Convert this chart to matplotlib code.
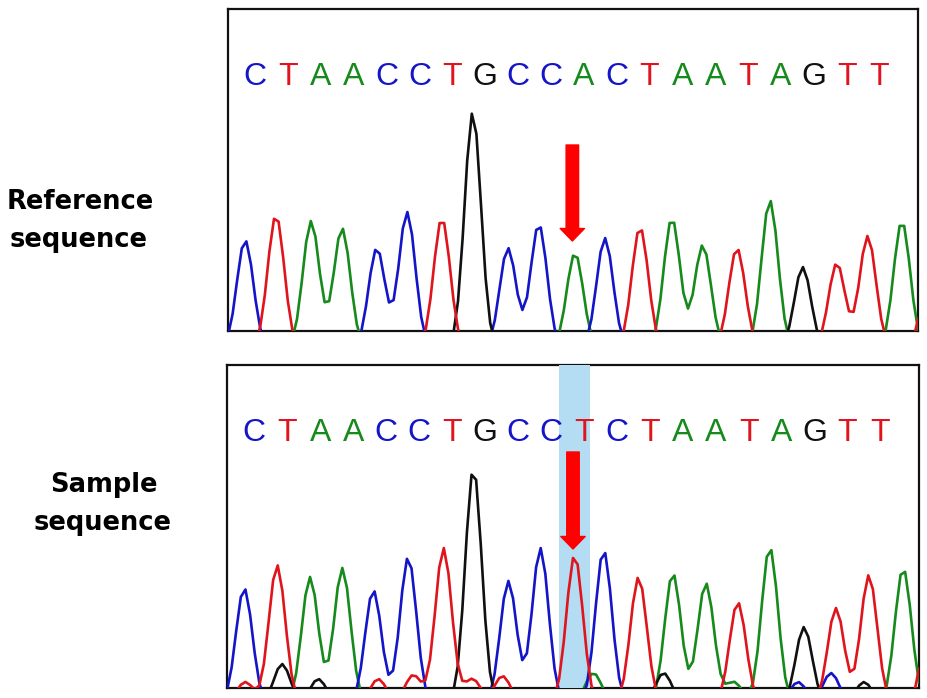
"""Sanger trace comparison: reference vs sample sequence"""

import numpy as np
import matplotlib
matplotlib.use("Agg")
import matplotlib.pyplot as plt

# called bases printed above each trace
ref_bases = list("CTAACCTGCCACTAATAGTT")
smp_bases = list("CTAACCTGCCTCTAATAGTT")

# main peaks: base, position (in base slots), height (trace units)
ref_peak_bases = list("CTAACCTGCCACTAATAGTTAT")
ref_peak_pos = [0.52, 1.46, 2.53, 3.47, 4.53, 5.45, 6.51, 7.45, 8.52, 9.46, 10.56,
                11.47, 12.54, 13.51, 14.45, 15.49, 16.49, 17.49, 18.53, 19.47, 20.51, 21.42]
ref_peak_h = [108, 133, 127, 120, 100, 136, 130, 236, 100, 124, 95,
              110, 121, 130, 103, 100, 148, 81, 85, 112, 127, 117]

smp_peak_bases = list("CTAACCTGCCTCTAATAGTTAT")
smp_peak_pos = [0.52, 1.52, 2.52, 3.50, 4.44, 5.50, 6.57, 7.48, 8.54, 9.51, 10.55,
                11.43, 12.49, 13.53, 14.53, 15.50, 16.47, 17.51, 18.48, 19.48, 20.52, 21.40]
smp_peak_h = [116, 139, 127, 136, 114, 147, 156, 236, 123, 156, 149,
              154, 127, 131, 121, 102, 157, 77, 96, 129, 136, 127]

# small background peaks in the sample trace
smp_bg_bases = ["T", "G", "G", "T", "T", "T", "T", "A", "G", "A", "C", "C", "G"]
smp_bg_pos = [0.55, 1.67, 2.77, 4.59, 5.65, 7.45, 8.36, 11.12, 13.25, 15.38, 17.33, 18.33, 19.33]
smp_bg_h = [22, 40, 25, 25, 29, 25, 28, 31, 31, 22, 22, 31, 22]

colors = {"A": "#168a1c", "C": "#1414c8", "G": "#101010", "T": "#e0141c"}
SIGMA = 0.25  # peak width in base slots
n_slots = 21


def trace(xs, pos, h, bases, base):
    y = np.zeros_like(xs)
    for p, hh, b in zip(pos, h, bases):
        if b == base:
            y += hh * np.exp(-(xs - p) ** 2 / (2 * SIGMA ** 2))
    return y


def draw_panel(ax, called, pos, h, bases, ylim):
    xs = np.arange(0, n_slots + 0.01, 0.14)
    for base in "ACGT":
        y = trace(xs, pos, h, bases, base)
        ax.plot(xs, y, color=colors[base], lw=1.9, zorder=3)
    for i, b in enumerate(called):
        ax.text(i + 0.83, 263, b, color=colors[b], fontsize=23, ha="center",
                va="baseline", family="Liberation Sans", zorder=4)
    ax.set_xlim(0, n_slots)
    ax.set_ylim(*ylim)
    ax.set_xticks([])
    ax.set_yticks([])
    for s in ax.spines.values():
        s.set_linewidth(1.6)
        s.set_color("#111111")
        s.set_zorder(0.5)


fig = plt.figure(figsize=(9.28, 6.98), dpi=100)

# bottom of each view cuts the trace a little above zero
ax_ref = fig.add_axes([228 / 928, 1 - 331 / 698, 690 / 928, 322 / 698])
draw_panel(ax_ref, ref_bases, ref_peak_pos, ref_peak_h, ref_peak_bases, (17, 339))

ax_smp = fig.add_axes([227 / 928, 1 - 688 / 698, 692 / 928, 323 / 698])
smp_pos = smp_peak_pos + smp_bg_pos
smp_h = smp_peak_h + smp_bg_h
smp_b = smp_peak_bases + smp_bg_bases
draw_panel(ax_smp, smp_bases, smp_pos, smp_h, smp_b, (16, 339))

# highlighted variant position
ax_smp.axvspan(10.09, 11.03, color="#b4dcf2", zorder=1, lw=0)

# red arrows pointing at the variant peak
arrow = dict(arrowstyle="simple,head_width=1.75,head_length=0.9,tail_width=0.9",
             color="#ff0000", shrinkA=0, shrinkB=0, mutation_scale=10)
ax_ref.annotate("", xy=(10.48, 107), xytext=(10.48, 203), arrowprops=arrow, zorder=5)
ax_smp.annotate("", xy=(10.50, 155), xytext=(10.50, 252), arrowprops=arrow, zorder=5)

# row labels
lab = dict(fontsize=18.5, fontweight="bold", ha="center", va="baseline")
fig.text(80 / 928, 1 - 209 / 698, "Reference", **lab)
fig.text(79 / 928, 1 - 247 / 698, "sequence", **lab)
fig.text(104 / 928, 1 - 492 / 698, "Sample", **lab)
fig.text(103 / 928, 1 - 530 / 698, "sequence", **lab)

fig.savefig("out.png", dpi=100)
